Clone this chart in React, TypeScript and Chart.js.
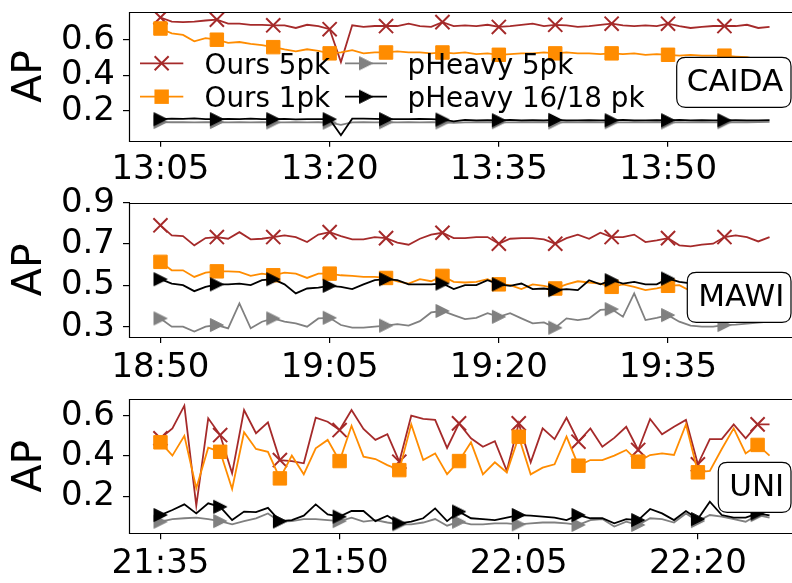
import React, { useEffect, useRef } from 'react';
import { Chart, registerables } from 'chart.js';

Chart.register(...registerables);

const FAMILY = "'DejaVu Sans', 'Liberation Sans', sans-serif";
Chart.defaults.font.family = FAMILY;

// ---------------- data ----------------
const seriesNames = ['Ours 5pk', 'Ours 1pk', 'pHeavy 5pk', 'pHeavy 16/18 pk'];
const tickMinutes = [0, 15, 30, 45];

const caidaTickLabels = ['13:05', '13:20', '13:35', '13:50'];
const mawiTickLabels = ['18:50', '19:05', '19:20', '19:35'];
const uniTickLabels = ['21:35', '21:50', '22:05', '22:20'];

const caidaYTicks = [0.2, 0.4, 0.6];
const mawiYTicks = [0.3, 0.5, 0.7, 0.9];
const uniYTicks = [0.2, 0.4, 0.6];

const caidaOurs5 = [
  0.725, 0.702, 0.699, 0.702, 0.708, 0.713, 0.690, 0.690, 0.684, 0.684,
  0.681, 0.681, 0.666, 0.684, 0.677, 0.659, 0.474, 0.681, 0.672, 0.677,
  0.677, 0.677, 0.690, 0.677, 0.672, 0.699, 0.677, 0.681, 0.677, 0.684,
  0.672, 0.677, 0.684, 0.690, 0.677, 0.684, 0.681, 0.672, 0.677, 0.684,
  0.690, 0.681, 0.677, 0.681, 0.677, 0.690, 0.677, 0.666, 0.672, 0.677,
  0.677, 0.677, 0.684, 0.666, 0.672,
];
const caidaOurs1 = [
  0.663, 0.636, 0.627, 0.591, 0.609, 0.600, 0.582, 0.587, 0.577, 0.569,
  0.558, 0.545, 0.534, 0.546, 0.537, 0.523, 0.528, 0.541, 0.523, 0.528,
  0.528, 0.534, 0.528, 0.528, 0.523, 0.528, 0.523, 0.528, 0.519, 0.523,
  0.515, 0.519, 0.523, 0.523, 0.528, 0.523, 0.528, 0.523, 0.523, 0.519,
  0.523, 0.519, 0.523, 0.515, 0.519, 0.515, 0.510, 0.515, 0.510, 0.510,
  0.510, 0.505, 0.501, 0.487, 0.483,
];
const caidaHeavy5 = [
  0.136, 0.135, 0.135, 0.134, 0.135, 0.136, 0.134, 0.135, 0.134, 0.135,
  0.134, 0.134, 0.135, 0.134, 0.135, 0.133, 0.120, 0.134, 0.135, 0.134,
  0.135, 0.134, 0.135, 0.134, 0.135, 0.134, 0.132, 0.134, 0.135, 0.134,
  0.135, 0.134, 0.135, 0.134, 0.135, 0.134, 0.135, 0.134, 0.135, 0.134,
  0.135, 0.134, 0.135, 0.134, 0.135, 0.134, 0.135, 0.134, 0.135, 0.134,
  0.135, 0.134, 0.135, 0.136, 0.137,
];
const caidaHeavy16 = [
  0.152, 0.155, 0.154, 0.157, 0.153, 0.152, 0.154, 0.152, 0.155, 0.153,
  0.152, 0.154, 0.151, 0.153, 0.152, 0.152, 0.062, 0.155, 0.155, 0.154,
  0.152, 0.153, 0.152, 0.154, 0.152, 0.150, 0.140, 0.148, 0.146, 0.147,
  0.146, 0.148, 0.146, 0.147, 0.146, 0.148, 0.146, 0.145, 0.147, 0.146,
  0.146, 0.148, 0.145, 0.146, 0.147, 0.146, 0.148, 0.146, 0.147, 0.146,
  0.146, 0.147, 0.146, 0.146, 0.147,
];

const mawiOurs5 = [
  0.791, 0.742, 0.739, 0.694, 0.729, 0.734, 0.726, 0.758, 0.723, 0.726,
  0.734, 0.742, 0.734, 0.710, 0.746, 0.758, 0.739, 0.723, 0.723, 0.734,
  0.729, 0.707, 0.697, 0.726, 0.746, 0.755, 0.729, 0.729, 0.734, 0.734,
  0.702, 0.726, 0.729, 0.729, 0.723, 0.702, 0.729, 0.746, 0.726, 0.755,
  0.734, 0.734, 0.746, 0.710, 0.718, 0.729, 0.694, 0.689, 0.697, 0.702,
  0.734, 0.742, 0.734, 0.713, 0.734,
];
const mawiOurs1 = [
  0.614, 0.573, 0.573, 0.541, 0.562, 0.568, 0.568, 0.565, 0.546, 0.557,
  0.549, 0.562, 0.557, 0.536, 0.557, 0.557, 0.549, 0.546, 0.541, 0.541,
  0.536, 0.520, 0.509, 0.530, 0.520, 0.546, 0.517, 0.514, 0.517, 0.530,
  0.505, 0.501, 0.482, 0.505, 0.498, 0.485, 0.505, 0.520, 0.514, 0.509,
  0.493, 0.505, 0.493, 0.477, 0.485, 0.498, 0.501, 0.472, 0.480, 0.490,
  0.485, 0.490, 0.485, 0.480, 0.485,
];
const mawiHeavy5 = [
  0.340, 0.300, 0.300, 0.276, 0.300, 0.308, 0.292, 0.413, 0.292, 0.324,
  0.340, 0.324, 0.316, 0.300, 0.340, 0.343, 0.308, 0.295, 0.295, 0.300,
  0.305, 0.312, 0.305, 0.327, 0.369, 0.376, 0.356, 0.337, 0.343, 0.365,
  0.348, 0.365, 0.340, 0.316, 0.321, 0.295, 0.340, 0.332, 0.340, 0.381,
  0.385, 0.348, 0.461, 0.332, 0.343, 0.356, 0.324, 0.305, 0.300, 0.300,
  0.308, 0.310, 0.315, 0.320, 0.325,
];
const mawiHeavy16 = [
  0.530, 0.509, 0.501, 0.472, 0.493, 0.505, 0.505, 0.509, 0.501, 0.525,
  0.530, 0.505, 0.461, 0.485, 0.489, 0.498, 0.493, 0.482, 0.505, 0.525,
  0.530, 0.525, 0.505, 0.505, 0.505, 0.509, 0.482, 0.501, 0.501, 0.525,
  0.505, 0.498, 0.509, 0.482, 0.485, 0.477, 0.482, 0.477, 0.525, 0.505,
  0.525, 0.509, 0.517, 0.505, 0.505, 0.533, 0.517, 0.510, 0.520, 0.515,
  0.520, 0.515, 0.520, 0.515, 0.520,
];

const uniOurs5 = [
  0.488, 0.537, 0.650, 0.153, 0.587, 0.504, 0.314, 0.628, 0.513, 0.567,
  0.380, 0.375, 0.364, 0.590, 0.570, 0.529, 0.628, 0.534, 0.480, 0.508,
  0.372, 0.600, 0.584, 0.579, 0.440, 0.562, 0.488, 0.446, 0.474, 0.326,
  0.562, 0.369, 0.537, 0.484, 0.590, 0.471, 0.537, 0.446, 0.490, 0.545,
  0.430, 0.584, 0.508, 0.545, 0.579, 0.359, 0.484, 0.484, 0.557, 0.488,
  0.557, 0.557,
];
const uniOurs1 = [
  0.468, 0.402, 0.500, 0.240, 0.441, 0.421, 0.236, 0.518, 0.435, 0.421,
  0.289, 0.402, 0.309, 0.438, 0.480, 0.375, 0.550, 0.397, 0.385, 0.355,
  0.330, 0.557, 0.380, 0.413, 0.310, 0.375, 0.468, 0.309, 0.369, 0.319,
  0.496, 0.309, 0.342, 0.359, 0.496, 0.352, 0.380, 0.380, 0.402, 0.430,
  0.372, 0.405, 0.413, 0.405, 0.557, 0.319, 0.326, 0.435, 0.537, 0.413,
  0.455, 0.402,
];
const uniHeavy5 = [
  0.074, 0.087, 0.091, 0.094, 0.087, 0.077, 0.061, 0.077, 0.091, 0.115,
  0.074, 0.077, 0.087, 0.087, 0.082, 0.077, 0.094, 0.074, 0.082, 0.070,
  0.061, 0.061, 0.070, 0.087, 0.054, 0.074, 0.061, 0.061, 0.066, 0.066,
  0.061, 0.066, 0.070, 0.070, 0.066, 0.058, 0.082, 0.087, 0.050, 0.074,
  0.058, 0.091, 0.087, 0.070, 0.115, 0.077, 0.107, 0.099, 0.087, 0.074,
  0.107, 0.094,
];
const uniHeavy16 = [
  0.107, 0.132, 0.160, 0.115, 0.165, 0.148, 0.082, 0.124, 0.122, 0.143,
  0.077, 0.082, 0.104, 0.160, 0.110, 0.099, 0.127, 0.127, 0.077, 0.104,
  0.066, 0.074, 0.091, 0.140, 0.077, 0.124, 0.091, 0.087, 0.082, 0.094,
  0.107, 0.104, 0.099, 0.094, 0.082, 0.107, 0.091, 0.091, 0.066, 0.087,
  0.082, 0.137, 0.115, 0.082, 0.127, 0.087, 0.173, 0.107, 0.094, 0.094,
  0.115, 0.105,
];

// ---------------- styles ----------------
const COLORS = ['#a52a2a', '#ff8c00', '#808080', '#000000'];
const MARKERS = ['x', 's', '>', '>'];
const MARK_EVERY = 5;
const LINE_W = 1.8;

type BoxSpec = { x: number; y: number; w: number; h: number; tx: number; ty: number; text: string };
type PanelSpec = {
  series: number[][];
  tickLabels: string[];
  yTicks: number[];
  yMin: number;
  yMax: number;
  xMin: number;
  xMax: number;
  top: number;
  height: number;
  padTop: number;
  axisHeight: number;
  padRight: number;
  xLabelPad: number;
  box: BoxSpec;
  legend: boolean;
};

const CANVAS_W = 812;

// panel 2 canvas starts at page y=175, panel 3 at page y=375 (canvases are transparent and may overlap)
const PANELS: PanelSpec[] = [
  {
    series: [caidaOurs5, caidaOurs1, caidaHeavy5, caidaHeavy16],
    tickLabels: caidaTickLabels,
    yTicks: caidaYTicks,
    yMin: 0.031,
    yMax: 0.756,
    xMin: -2.7,
    xMax: 56.7,
    top: 0,
    height: 190,
    padTop: 6,
    axisHeight: 49.3,
    padRight: CANVAS_W - 802.3,
    xLabelPad: 3,
    box: { x: 676.7, y: 57.3, w: 114.3, h: 50, tx: 735, ty: 90.7, text: 'CAIDA' },
    legend: true,
  },
  {
    series: [mawiOurs5, mawiOurs1, mawiHeavy5, mawiHeavy16],
    tickLabels: mawiTickLabels,
    yTicks: mawiYTicks,
    yMin: 0.25,
    yMax: 0.9015,
    xMin: -2.7,
    xMax: 56.7,
    top: 175,
    height: 210,
    padTop: 27.5,
    axisHeight: 48,
    padRight: CANVAS_W - 802.3,
    xLabelPad: 4.4,
    box: { x: 687.3, y: 97.3, w: 103.7, h: 50, tx: 741.3, ty: 130.7, text: 'MAWI' },
    legend: false,
  },
  {
    series: [uniOurs5, uniOurs1, uniHeavy5, uniHeavy16],
    tickLabels: uniTickLabels,
    yTicks: uniYTicks,
    yMin: 0.0164,
    yMax: 0.683,
    xMin: -2.55,
    xMax: 53.55,
    top: 375,
    height: 208,
    padTop: 24,
    axisHeight: 49.7,
    padRight: CANVAS_W - 801,
    xLabelPad: 4.3,
    box: { x: 718.3, y: 87.3, w: 72.7, h: 50, tx: 756.7, ty: 120.7, text: 'UNI' },
    legend: false,
  },
];

function makeTriangle(color: string): HTMLCanvasElement {
  const c = document.createElement('canvas');
  c.width = 16;
  c.height = 16;
  const g = c.getContext('2d')!;
  g.fillStyle = color;
  g.strokeStyle = color;
  g.lineWidth = 1;
  g.beginPath();
  g.moveTo(1.5, 1.5);
  g.lineTo(14.5, 8);
  g.lineTo(1.5, 14.5);
  g.closePath();
  g.fill();
  g.stroke();
  return c;
}

function drawMarker(ctx: CanvasRenderingContext2D, kind: string, x: number, y: number, color: string, tri: HTMLCanvasElement | null) {
  ctx.save();
  if (kind === 'x') {
    ctx.strokeStyle = color;
    ctx.lineWidth = 2;
    ctx.beginPath();
    ctx.moveTo(x - 7, y - 7);
    ctx.lineTo(x + 7, y + 7);
    ctx.moveTo(x - 7, y + 7);
    ctx.lineTo(x + 7, y - 7);
    ctx.stroke();
  } else if (kind === 's') {
    ctx.fillStyle = color;
    ctx.fillRect(x - 7.2, y - 7.2, 14.4, 14.4);
  } else if (tri) {
    ctx.drawImage(tri, x - 8, y - 8);
  }
  ctx.restore();
}

function roundRect(ctx: CanvasRenderingContext2D, x: number, y: number, w: number, h: number, r: number) {
  ctx.beginPath();
  ctx.moveTo(x + r, y);
  ctx.lineTo(x + w - r, y);
  ctx.quadraticCurveTo(x + w, y, x + w, y + r);
  ctx.lineTo(x + w, y + h - r);
  ctx.quadraticCurveTo(x + w, y + h, x + w - r, y + h);
  ctx.lineTo(x + r, y + h);
  ctx.quadraticCurveTo(x, y + h, x, y + h - r);
  ctx.lineTo(x, y + r);
  ctx.quadraticCurveTo(x, y, x + r, y);
  ctx.closePath();
}

function zeroPad(s: any) {
  s.paddingTop = 0;
  s.paddingBottom = 0;
  s.paddingLeft = 0;
  s.paddingRight = 0;
}

function makeChart(canvas: HTMLCanvasElement, p: PanelSpec, tris: (HTMLCanvasElement | null)[]) {
  const datasets = p.series
    .map((vals, k) => {
      const kind = MARKERS[k];
      const style: any = kind === 'x' ? 'crossRot' : kind === 's' ? 'rect' : tris[k];
      const r = kind === 'x' ? 10 : kind === 's' ? 9.5 : 8;
      return {
        label: seriesNames[k],
        data: vals.map((v, i) => ({ x: i, y: v })),
        borderColor: COLORS[k],
        backgroundColor: COLORS[k],
        borderWidth: LINE_W,
        tension: 0,
        pointStyle: style,
        pointRadius: (c: any) => (c.dataIndex % MARK_EVERY === 0 ? r : 0),
        pointBackgroundColor: COLORS[k],
        pointBorderColor: COLORS[k],
        pointBorderWidth: kind === 'x' ? 2 : 1,
        pointHoverRadius: 0,
        fill: false,
      };
    })
    .reverse(); // index 0 drawn on top -> last plotted series on top

  const panelPlugin = {
    id: 'panelDecor',
    afterDatasetsDraw(chart: any) {
      const ctx: CanvasRenderingContext2D = chart.ctx;
      const a = chart.chartArea;
      // frame
      ctx.save();
      ctx.strokeStyle = '#000';
      ctx.lineWidth = 1.2;
      const L = Math.round(a.left) - 0.5;
      const T = Math.round(a.top) + 0.5;
      const B = Math.round(a.bottom) + 0.5;
      const R = Math.round(a.right) + 0.5;
      ctx.beginPath();
      ctx.moveTo(L, T);
      ctx.lineTo(R, T);
      ctx.lineTo(R, B);
      ctx.lineTo(L, B);
      ctx.closePath();
      ctx.stroke();
      ctx.restore();

      // legend
      if (p.legend) {
        const rows = [63.3, 96.7];
        const cols = [
          { x0: 140, x1: 183.3, tx: 204.5 },
          { x0: 345, x1: 387, tx: 407.5 },
        ];
        ctx.save();
        ctx.font = `27.8px ${FAMILY}`;
        ctx.textAlign = 'left';
        for (let k = 0; k < 4; k++) {
          const col = cols[Math.floor(k / 2)];
          const y = rows[k % 2];
          ctx.strokeStyle = COLORS[k];
          ctx.lineWidth = LINE_W;
          ctx.beginPath();
          ctx.moveTo(col.x0, y);
          ctx.lineTo(col.x1, y);
          ctx.stroke();
          drawMarker(ctx, MARKERS[k], (col.x0 + col.x1) / 2, y, COLORS[k], tris[k]);
          ctx.fillStyle = '#000';
          ctx.textBaseline = 'alphabetic';
          ctx.fillText(seriesNames[k], col.tx, y + 10.5);
        }
        ctx.restore();
      }

      // dataset label box
      const b = p.box;
      ctx.save();
      roundRect(ctx, b.x, b.y, b.w, b.h, 9);
      ctx.fillStyle = '#fff';
      ctx.fill();
      ctx.strokeStyle = '#000';
      ctx.lineWidth = 1.2;
      ctx.stroke();
      ctx.fillStyle = '#000';
      ctx.font = `31px ${FAMILY}`;
      ctx.textAlign = 'center';
      ctx.textBaseline = 'alphabetic';
      ctx.fillText(b.text, b.tx, b.ty);
      ctx.restore();
    },
  };

  return new Chart(canvas, {
    type: 'line',
    data: { datasets: datasets as any },
    options: {
      animation: false,
      responsive: false,
      maintainAspectRatio: false,
      devicePixelRatio: 1,
      events: [],
      layout: { padding: { top: p.padTop, right: p.padRight, left: 0, bottom: 0 } },
      plugins: { legend: { display: false }, tooltip: { enabled: false } },
      scales: {
        x: {
          type: 'linear',
          min: p.xMin,
          max: p.xMax,
          afterBuildTicks: (s: any) => {
            s.ticks = tickMinutes.map((v) => ({ value: v }));
          },
          afterFit: (s: any) => {
            s.height = p.axisHeight;
            zeroPad(s);
          },
          ticks: {
            autoSkip: false,
            maxRotation: 0,
            minRotation: 0,
            color: '#000',
            padding: p.xLabelPad,
            font: { size: 34, family: FAMILY },
            callback: (v: any) => {
              const idx = tickMinutes.indexOf(Number(v));
              return idx >= 0 ? p.tickLabels[idx] : '';
            },
          },
          grid: { drawOnChartArea: false, drawTicks: true, tickLength: 6, color: '#000', lineWidth: 1.2 },
          border: { display: false },
        },
        y: {
          type: 'linear',
          min: p.yMin,
          max: p.yMax,
          afterBuildTicks: (s: any) => {
            s.ticks = p.yTicks.map((v) => ({ value: v }));
          },
          afterFit: (s: any) => {
            s.width = 130;
            zeroPad(s);
          },
          ticks: {
            autoSkip: false,
            color: '#000',
            padding: 8,
            font: { size: 34, family: FAMILY },
            callback: (v: any) => Number(v).toFixed(1),
          },
          grid: { drawOnChartArea: false, drawTicks: true, tickLength: 7, color: '#000', lineWidth: 1.2 },
          border: { display: false },
          title: {
            display: true,
            text: 'AP',
            color: '#000',
            font: { size: 41, family: FAMILY },
            padding: { top: 6, bottom: 0 },
          },
        },
      },
    } as any,
    plugins: [panelPlugin],
  });
}

function Panel({ spec }: { spec: PanelSpec }) {
  const ref = useRef<HTMLCanvasElement | null>(null);
  useEffect(() => {
    if (!ref.current) return;
    const tris = COLORS.map((c, k) => (MARKERS[k] === '>' ? makeTriangle(c) : null));
    const chart = makeChart(ref.current, spec, tris);
    return () => chart.destroy();
  }, [spec]);
  return (
    <canvas
      ref={ref}
      width={CANVAS_W}
      height={spec.height}
      style={{ position: 'absolute', left: 0, top: spec.top, width: CANVAS_W, height: spec.height, display: 'block' }}
    />
  );
}

export default function App() {
  return (
    <div
      style={{
        position: 'absolute',
        left: 0,
        top: 0,
        width: 792,
        height: 583,
        overflow: 'hidden',
        background: '#fff',
      }}
    >
      {PANELS.map((p, i) => (
        <Panel key={i} spec={p} />
      ))}
    </div>
  );
}
